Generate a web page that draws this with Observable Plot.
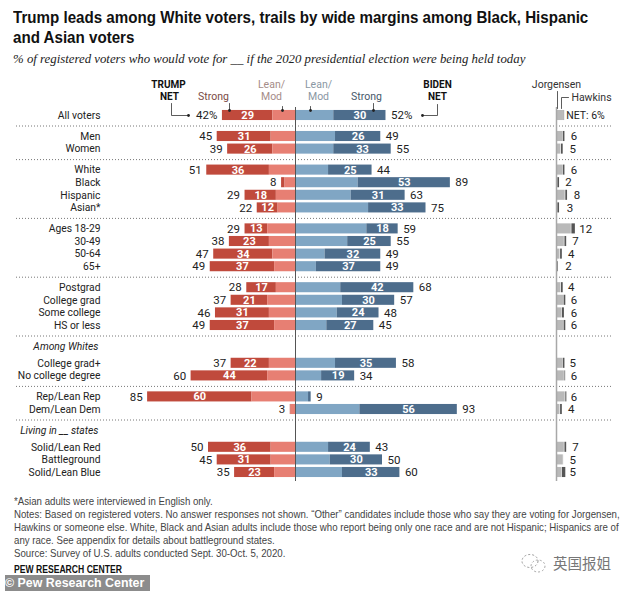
<!DOCTYPE html>
<html><head><meta charset="utf-8">
<script src="https://cdn.jsdelivr.net/npm/d3@7"></script>
<script src="https://cdn.jsdelivr.net/npm/@observablehq/plot@0.6"></script>
<style>
html,body{margin:0;padding:0;background:#fff;width:634px;height:591px;overflow:hidden;font-family:"Liberation Sans",sans-serif;position:relative}
#head{position:absolute;left:13px;top:0;width:615px;height:70px}
#title{position:absolute;top:7px;left:0;font:bold 17.2px/20px "Liberation Sans",sans-serif;color:#111;white-space:nowrap;transform-origin:left top}
#sub{position:absolute;top:51px;left:0;font:italic 12.2px/16px "Liberation Serif",serif;color:#222;white-space:nowrap;transform-origin:left top}
#chart{position:absolute;left:0;top:70px}
#chart svg{display:block}
#notes{position:absolute;left:14px;top:495px;font:10.6px/13.1px "Liberation Sans",sans-serif;color:#444;white-space:nowrap;transform-origin:left top}
#pew{position:absolute;left:14px;top:563px;font:bold 10.6px/13px "Liberation Sans",sans-serif;color:#111;white-space:nowrap;transform-origin:left top}
#credit{position:absolute;left:5px;top:575px;width:145px;height:16px;background:#8c8c8c;color:#fff;font:bold 12.4px/16px "Liberation Sans",sans-serif;white-space:nowrap;overflow:hidden}
#mark{position:absolute;left:553px;top:554px;font:14.5px/18px "Noto Sans CJK SC",sans-serif;color:#777}
#icon{position:absolute;left:520px;top:553px}
</style></head><body>
<div id="head">
<div id="title">Trump leads among White voters, trails by wide margins among Black, Hispanic<br>and Asian voters</div>
<div id="sub">% of registered voters who would vote for __ if the 2020 presidential election were being held today</div>
</div>
<div id="chart"></div>
<div id="notes">*Asian adults were interviewed in English only.<br>Notes: Based on registered voters. No answer responses not shown. “Other” candidates include those who say they are voting for Jorgensen,<br>Hawkins or someone else. White, Black and Asian adults include those who report being only one race and are not Hispanic; Hispanics are of<br>any race. See appendix for details about battleground states.<br>Source: Survey of U.S. adults conducted Sept. 30-Oct. 5, 2020.</div>
<div id="pew">PEW RESEARCH CENTER</div>
<div id="credit">© Pew Research Center</div>
<svg id="icon" width="27" height="20"><ellipse cx="10" cy="8" rx="8" ry="6.5" fill="none" stroke="#999" stroke-dasharray="2,2"/><ellipse cx="18" cy="13" rx="7" ry="6" fill="none" stroke="#aaa" stroke-dasharray="2,2"/></svg>
<div id="mark">英国报姐</div>
<script>
const rowLabels = ["All voters","Men","Women","White","Black","Hispanic","Asian*","Ages 18-29","30-49","50-64","65+","Postgrad","College grad","Some college","HS or less","Among Whites","College grad+","No college degree","Rep/Lean Rep","Dem/Lean Dem","Living in __ states","Solid/Lean Red","Battleground","Solid/Lean Blue"];
const groupOf =     [0,1,1,2,2,2,2,3,3,3,3,4,4,4,4,5,5,5,6,6,7,7,7,7];
const isHeading =   [0,0,0,0,0,0,0,0,0,0,0,0,0,0,0,1,0,0,0,0,1,0,0,0];
const trumpNet =    [42,45,39,51,8,29,22,29,38,47,49,28,37,46,49,null,37,60,85,3,null,50,45,35];
const trumpStrong = [29,31,26,36,2,18,12,13,23,34,37,17,21,31,37,null,22,44,60,0.5,null,36,31,23];
const bidenNet =    [52,49,55,44,89,63,75,59,55,49,49,68,57,48,45,null,58,34,9,93,null,43,50,60];
const bidenStrong = [30,26,33,25,53,31,33,18,25,32,37,42,30,24,27,null,35,19,1.5,56,null,24,30,33];
const jorgensen =   [4,3.5,2.5,3.5,0.4,5,0.4,8.5,4.5,2,0.3,2.5,4,3,4,null,3.5,4.5,5,2,null,4.5,3.5,3];
const hawkins =     [0.3,1,1,1,1,1,1,2,1,1,0.4,1,1,1.2,1,null,1,0.4,0.6,1,null,1,0.2,2];
const otherNet =    [6,6,5,6,2,8,3,12,7,4,2,4,6,6,6,null,5,6,6,4,null,7,5,5];

const colors = {trumpStrong:"#c04a3c", trumpLean:"#e77f73", bidenLean:"#80a6c4", bidenStrong:"#4d6d8c", jor:"#b9b9b9", haw:"#555"};
const pxPerUnit = 1.74, zeroPx = 295, otherAt = (556 - zeroPx) / pxPerUnit;
const ux = p => (p - zeroPx) / pxPerUnit;
const uy = p => (p - 115) / 4.2;

let pos = 0;
const rows = rowLabels.map((label, i) => {
  if (i > 0) pos += groupOf[i] !== groupOf[i-1] ? 5 : (isHeading[i-1] ? 4 : 3);
  return {label, pos, group: groupOf[i], heading: !!isHeading[i], tn: trumpNet[i], ts: trumpStrong[i], bn: bidenNet[i], bs: bidenStrong[i], j: jorgensen[i], h: hawkins[i], o: otherNet[i]};
});
const data = rows.filter(r => !r.heading);
const gridPos = d3.range(1, rows.length).filter(i => groupOf[i] !== groupOf[i-1]).map(i => (rows[i-1].pos + rows[i].pos) / 2);
const halfBar = 1.2;
const rect = (x1, x2, fill, extra = {}) => Plot.rect(data, {x1, x2, y1: d => d.pos - halfBar, y2: d => d.pos + halfBar, fill, ...extra});

const fam = 'Roboto,"Liberation Sans",sans-serif';
const font = {fontFamily: fam, fontSize: 10.3, fill: "#222"};
const leaders = [
  [[171,103],[171,115],[187,115]],
  [[437,104],[437,115],[423,115]],
  [[229,103],[229,110]], [[282,106],[282,110]], [[310,106],[310,110]], [[373,103],[373,110]],
  [[557,91],[557,108]], [[561,108],[561,97],[568,97]]
];
const dots = [[188,115],[422,115],[229,110],[282,110],[310,110],[373,110]];
const headers = [
  {t:"Strong",x:213,y:96,c:"#7a4a44"},{t:"Lean/",x:271,y:84,c:"#a58c88"},{t:"Mod",x:271,y:96,c:"#a58c88"},
  {t:"Lean/",x:318,y:84,c:"#8a97a3"},{t:"Mod",x:318,y:96,c:"#8a97a3"},{t:"Strong",x:366,y:96,c:"#46586a"},
  {t:"Jorgensen",x:556,y:84,c:"#333"},{t:"Hawkins",x:591,y:97,c:"#333"},{t:"NET: 6%",x:585,y:115,c:"#222"}
];
const boldHeaders = [
  {t:"TRUMP",x:168,y:84},{t:"NET",x:169,y:96},{t:"BIDEN",x:437,y:84},{t:"NET",x:437,y:96}
];

const chart = Plot.plot({
  width: 634, height: 425, marginTop: 0, marginBottom: 0, marginLeft: 0, marginRight: 0,
  x: {domain: [ux(0), ux(634)], range: [0, 634], axis: null},
  y: {domain: [0, 85], range: [45, 402], axis: null},
  marks: [
    Plot.ruleY(gridPos, {x1: ux(16), x2: ux(613), stroke: "#777", strokeWidth: 1, strokeDasharray: "1,2"}),
    rect(d => -d.tn, d => -(d.tn - d.ts), colors.trumpStrong),
    rect(d => -(d.tn - d.ts), 0, colors.trumpLean),
    rect(0, d => d.bn - d.bs, colors.bidenLean),
    rect(d => d.bn - d.bs, d => d.bn, colors.bidenStrong),
    rect(() => otherAt, d => otherAt + d.j, colors.jor),
    rect(d => otherAt + d.j + 0.35, d => otherAt + d.j + 0.35 + d.h, colors.haw),
    Plot.ruleX([0], {y1: uy(107), y2: uy(481), stroke: "#555", strokeWidth: 1}),
    Plot.ruleX([otherAt], {y1: uy(107), y2: uy(481), stroke: "#a8a8a8", strokeWidth: 1.5}),
    Plot.text(rows, {x: ux(100), y: "pos", text: "label", textAnchor: "end", ...font, filter: d => !d.heading}),
    Plot.text(rows, {x: ux(98), y: "pos", text: "label", textAnchor: "end", ...font, fontStyle: "italic", filter: d => d.heading}),
    Plot.text(data, {x: d => -(d.tn - d.ts / 2), y: "pos", text: "ts", fill: "#fff", fontSize: 11, fontWeight: "bold", fontFamily: fam, filter: d => d.ts >= 10}),
    Plot.text(data, {x: d => d.bn - d.bs / 2, y: "pos", text: "bs", fill: "#fff", fontSize: 11, fontWeight: "bold", fontFamily: fam, filter: d => d.bs >= 10}),
    Plot.text(data, {x: d => -d.tn, y: "pos", text: d => d.label === "All voters" ? d.tn + "%" : d.tn, textAnchor: "end", dx: -5, ...font, fontSize: 11.5}),
    Plot.text(data, {x: d => d.bn, y: "pos", text: d => d.label === "All voters" ? d.bn + "%" : d.bn, textAnchor: "start", dx: 5, ...font, fontSize: 11.5}),
    Plot.text(data, {x: d => otherAt + d.o * 0.8, y: "pos", text: "o", textAnchor: "start", dx: 6, ...font, fontSize: 11.5, filter: d => d.label !== "All voters"}),
    ...leaders.map(l => Plot.line(l, {x: p => ux(p[0]), y: p => uy(p[1]), stroke: "#333", strokeWidth: 0.8})),
    Plot.dot(dots, {x: p => ux(p[0]), y: p => uy(p[1]), r: 1.4, fill: "#222"}),
    Plot.text(headers, {x: d => ux(d.x), y: d => uy(d.y), text: "t", fill: d => d.c, fontFamily: fam, fontSize: 10.5}),
    Plot.text(boldHeaders, {x: d => ux(d.x), y: d => uy(d.y), text: "t", fill: "#111", fontWeight: "bold", fontFamily: fam, fontSize: 10})
  ]
});
document.getElementById("chart").append(chart);

// squeeze the wide fallback fonts to the reference's condensed text widths
const fit = (id, target) => {
  const el = document.getElementById(id);
  el.style.transform = `scaleX(${target / el.offsetWidth})`;
};
const fitAll = () => { fit("title", 575); fit("sub", 512); fit("notes", 606); fit("pew", 108); };
fitAll();
document.fonts.ready.then(fitAll);
</script>
</body></html>
